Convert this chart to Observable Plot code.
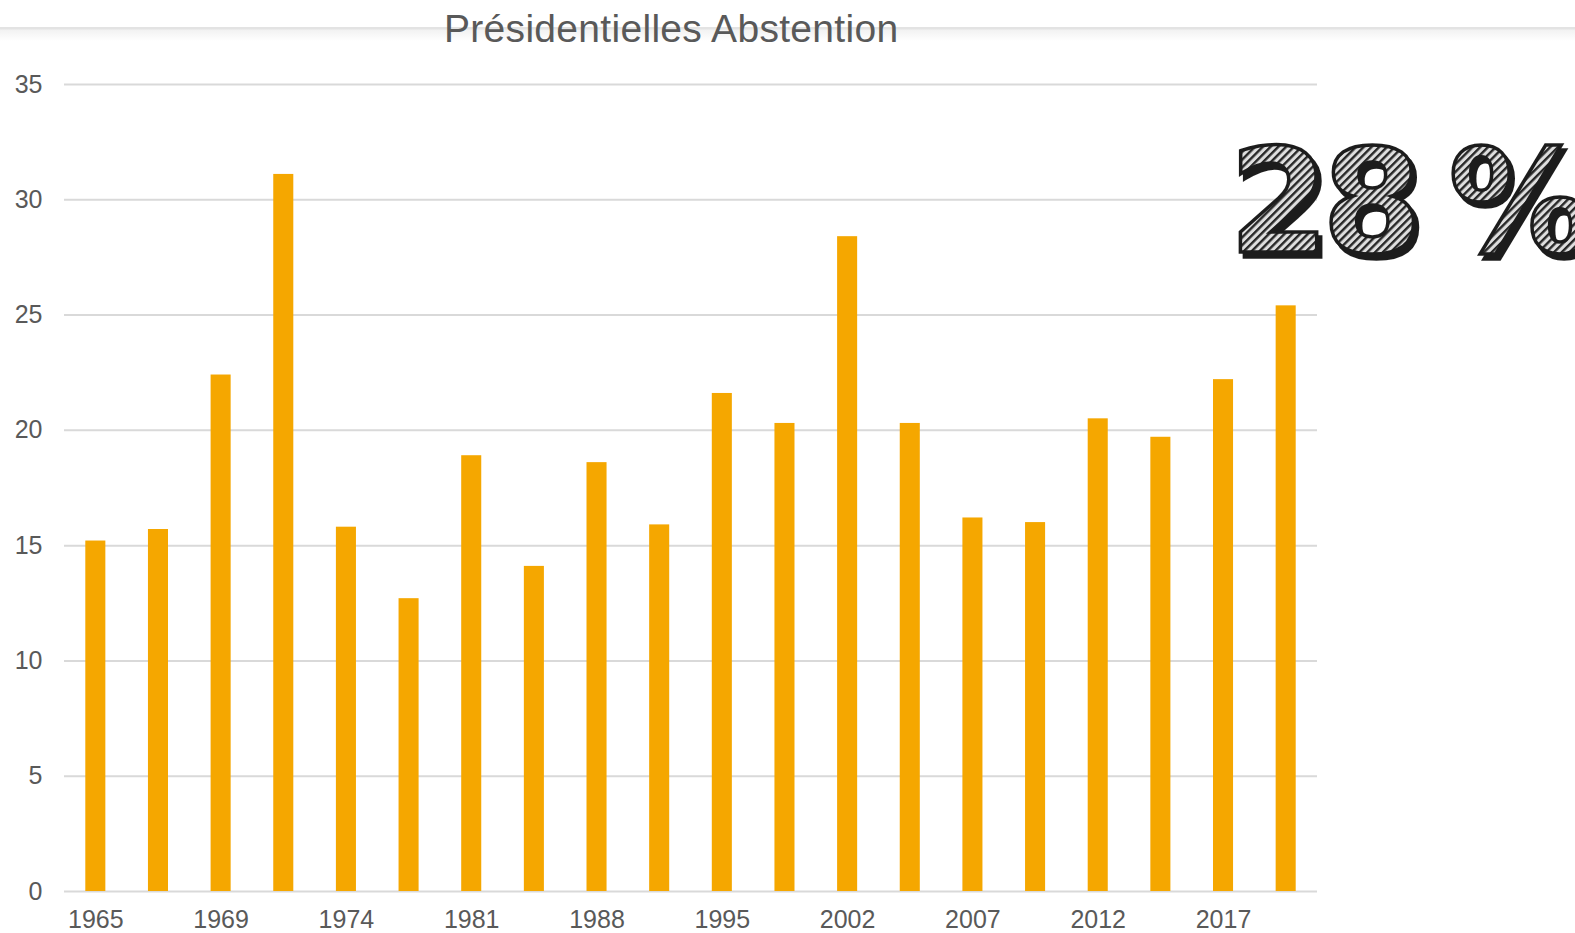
<!DOCTYPE html>
<html><head><meta charset="utf-8">
<script src="https://cdn.jsdelivr.net/npm/d3@7"></script>
<script src="https://cdn.jsdelivr.net/npm/@observablehq/plot@0.6"></script>
<style>
body{margin:0;background:#fff;font-family:"Liberation Sans",Arial,sans-serif;}
#wrap{position:relative;width:1575px;height:933px;overflow:hidden;background:#fff;}
#band{position:absolute;left:0;top:27px;width:1575px;height:14px;background:linear-gradient(#e3e3e3 0,#e3e3e3 2px,#f2f2f2 3px,#ffffff 14px);}
#chart{position:absolute;left:0;top:0;}
#title{position:absolute;left:444px;top:9px;font-size:39px;line-height:1;color:#595959;white-space:nowrap;letter-spacing:0.3px;}
#big{position:absolute;left:0;top:0;}
</style></head>
<body>
<div id="wrap">
  <div id="band"></div>
  <div id="chart"></div>
  <div id="title">Présidentielles Abstention</div>
  <svg id="big" width="1575" height="933">
    <defs>
      <pattern id="hatch" width="5.5" height="5.5" patternUnits="userSpaceOnUse" patternTransform="rotate(45)">
        <rect width="5.5" height="5.5" fill="#dedede"/>
        <rect width="2.4" height="5.5" fill="#262626"/>
      </pattern>
      <filter id="shadow" x="-10%" y="-10%" width="130%" height="130%">
        <feOffset in="SourceAlpha" dx="4" dy="5" result="off"/>
        <feFlood flood-color="#1c1c1c"/>
        <feComposite in2="off" operator="in" result="sh"/>
        <feMerge><feMergeNode in="sh"/><feMergeNode in="SourceGraphic"/></feMerge>
      </filter>
    </defs>
    <g id="bigtext" font-family="DejaVu Sans" font-weight="bold" font-size="144" letter-spacing="-7" word-spacing="-10"></g>
  </svg>
</div>
<script>
// Data: abstention (%) at French presidential elections, 1st and 2nd rounds
const categories = ["1965 T1","1965 T2","1969 T1","1969 T2","1974 T1","1974 T2","1981 T1","1981 T2","1988 T1","1988 T2",
                    "1995 T1","1995 T2","2002 T1","2002 T2","2007 T1","2007 T2","2012 T1","2012 T2","2017 T1","2017 T2"];
const tickLabels = ["1965","","1969","","1974","","1981","","1988","","1995","","2002","","2007","","2012","","2017",""];
const abstention = [15.2,15.7,22.4,31.1,15.8,12.7,18.9,14.1,18.6,15.9,21.6,20.3,28.4,20.3,16.2,16.0,20.5,19.7,22.2,25.4];
const yTicks = [0,5,10,15,20,25,30,35];
const highlight = "28 %";

const data = categories.map((c, i) => ({c, v: abstention[i], label: tickLabels[i]}));

const chart = Plot.plot({
  width: 1575,
  height: 933,
  marginTop: 84,
  marginBottom: 42,
  marginLeft: 64,
  marginRight: 258,
  style: {fontFamily: "Liberation Sans, Arial, sans-serif", background: "transparent", color: "#595959"},
  x: {type: "band", domain: categories, paddingInner: 0.68, paddingOuter: 0.34, round: false, label: null},
  y: {domain: [0, 35], label: null},
  marks: [
    Plot.gridY(yTicks, {stroke: "#d9d9d9", strokeOpacity: 1, strokeWidth: 2}),
    Plot.barY(data, {x: "c", y: "v", fill: "#f5a700"}),
    Plot.axisY(yTicks, {anchor: "left", tickSize: 0, tickPadding: 22, fontSize: 25, fill: "#595959", label: null}),
    Plot.axisX({anchor: "bottom", tickSize: 0, tickPadding: 19, fontSize: 25, fill: "#595959", label: null,
                tickFormat: (d) => tickLabels[categories.indexOf(d)]})
  ]
});
document.getElementById("chart").appendChild(chart);

// Big highlighted figure
d3.select("#bigtext").append("text")
  .attr("x", 1229).attr("y", 252)
  .attr("fill", "url(#hatch)").attr("stroke", "#1c1c1c").attr("stroke-width", 3.5)
  .attr("filter", "url(#shadow)")
  .text(highlight);
</script>
</body></html>
